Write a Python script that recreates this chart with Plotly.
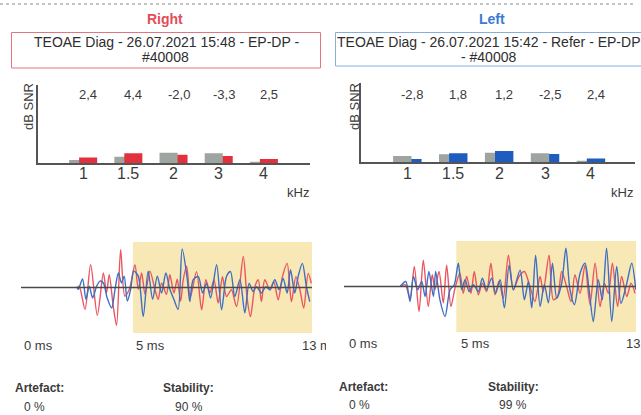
import plotly.graph_objects as go

W, H = 641, 415

# ---------------- data ----------------
freq_labels = ['1', '1.5', '2', '3', '4']
snr_right = ['2,4', '4,4', '-2,0', '-3,3', '2,5']
snr_left = ['-2,8', '1,8', '1,2', '-2,5', '2,4']
noise_right = [1.1, 2.2, 3.5, 3.3, 0.55]
signal_right = [1.9, 3.3, 2.8, 2.4, 1.45]
noise_left = [2.1, 2.7, 3.2, 3.0, 0.55]
signal_left = [1.1, 3.0, 3.8, 2.8, 1.3]

time_ticks = [0, 5, 13]
time_labels_right = ['0 ms', '5 ms', '13 ms']
time_labels_left = ['0 ms', '5 ms', '13 ms']

right_red_t = [2.5, 2.6, 2.86, 3.11, 3.41, 3.68, 3.82, 3.94, 4.12, 4.27, 4.45, 4.64, 4.84, 5.09, 5.24, 5.39, 5.54, 5.76, 5.98, 6.13, 6.28, 6.5, 6.65, 6.83, 6.98, 7.13, 7.25, 7.4, 7.56, 7.84, 8.07, 8.26, 8.44, 8.62, 8.81, 9.0, 9.18, 9.4, 9.63, 9.93, 10.1, 10.25, 10.45, 10.6, 10.74, 10.89, 11.12, 11.29, 11.49, 11.68, 11.89, 12.08, 12.28, 12.46, 12.63, 12.83, 12.97]
right_red_a = [0, 0.03, -0.48, 0.5, -0.61, 0.32, -0.12, 0.28, -0.41, -0.83, 0.83, -0.19, -0.04, 0.5, -0.04, 0.32, -0.15, 0.36, -0.04, -0.26, 0.1, -0.15, 0.28, -0.12, 0.18, -0.3, 0.18, 0.47, -0.22, 0.35, -0.49, 0.17, -0.12, 0.17, -0.34, 0.24, -0.2, -0.05, -0.42, 0.68, -0.23, -0.64, 0.02, 0.17, -0.31, 0.17, -0.05, 0.13, -0.27, 0.24, 0.53, -0.31, 0.24, -0.05, -0.45, 0.31, 0.09]
right_blue_t = [2.5, 2.56, 2.75, 2.9, 3.05, 3.2, 3.38, 3.53, 3.68, 3.85, 4.05, 4.2, 4.35, 4.49, 4.61, 4.75, 4.9, 5.04, 5.24, 5.46, 5.68, 5.88, 6.09, 6.28, 6.47, 6.65, 6.83, 7.02, 7.2, 7.43, 7.54, 7.69, 7.92, 8.11, 8.29, 8.47, 8.74, 8.96, 9.18, 9.36, 9.55, 9.78, 10.0, 10.19, 10.37, 10.52, 10.74, 10.94, 11.12, 11.34, 11.53, 11.71, 11.89, 12.04, 12.23, 12.38, 12.57, 12.75, 12.9]
right_blue_a = [0, -0.04, 0.19, -0.26, 0.03, -0.23, 0.03, 0.14, 0.1, -0.23, -0.45, -0.04, 0.32, 0.1, 0.25, -0.3, -0.04, 0.36, 0.25, -0.64, 0.36, -0.26, 0.25, -0.12, 0.32, -0.04, -0.26, -0.48, 0.85, 0.18, -0.31, 0.17, 0.24, -0.12, 0.09, -0.23, 0.5, -0.49, 0.24, 0.35, -0.2, 0.17, -0.56, 0.09, -0.09, 0.02, -0.12, 0.02, -0.05, 0.17, -0.05, 0.2, -0.12, 0.39, -0.12, 0.24, 0.53, 0.02, -0.31]
left_red_t = [2.5, 2.72, 2.94, 3.13, 3.34, 3.53, 3.75, 3.93, 4.05, 4.23, 4.42, 4.57, 4.76, 4.94, 5.16, 5.31, 5.46, 5.65, 5.8, 5.98, 6.16, 6.35, 6.54, 6.72, 6.9, 7.09, 7.32, 7.54, 7.79, 8.03, 8.28, 8.5, 8.73, 8.87, 9.13, 9.32, 9.51, 9.69, 9.91, 10.11, 10.28, 10.51, 10.73, 10.95, 11.18, 11.4, 11.59, 11.77, 11.95, 12.18, 12.36, 12.59, 12.78, 12.96]
left_red_a = [0, 0.04, -0.26, 0.44, -0.55, 0.58, -0.44, 0.26, -0.07, 0.33, -0.36, 0.47, -0.44, -0.04, 0.29, -0.15, 0.22, -0.15, 0.33, -0.18, 0.07, -0.11, 0.51, -0.18, 0.11, -0.26, 0.69, -0.07, 0.22, 0.33, 0, -0.33, 0.22, -0.11, 0.69, -0.29, -0.22, 0.33, 0, -0.33, 0.26, -0.15, 0.47, -0.4, 0.51, -0.44, 0.07, -0.15, 0.51, -0.44, 0.22, -0.22, 0.07, -0.15]
left_blue_t = [2.5, 2.75, 2.94, 3.09, 3.28, 3.46, 3.61, 3.78, 3.98, 4.08, 4.27, 4.5, 4.72, 4.91, 5.09, 5.24, 5.39, 5.57, 5.76, 5.98, 6.16, 6.35, 6.57, 6.75, 6.95, 7.14, 7.35, 7.54, 7.84, 8.03, 8.21, 8.36, 8.53, 8.73, 8.92, 9.1, 9.28, 9.47, 9.69, 9.88, 10.06, 10.26, 10.51, 10.73, 10.91, 11.1, 11.32, 11.5, 11.69, 11.92, 12.14, 12.33, 12.59, 12.81, 12.99]
left_blue_a = [0, 0.11, -0.33, 0.22, -0.07, 0.11, -0.22, 0.33, -0.22, 0.33, -0.29, -0.66, -0.07, 0.04, 0.51, -0.07, 0.15, -0.11, 0.04, -0.11, 0.18, -0.07, 0.18, -0.15, 0.15, -0.47, 0.47, -0.07, 0.36, -0.29, 0.11, -0.47, 0.69, -0.44, 0.04, -0.36, 0.51, -0.26, 0.07, 0.84, -0.07, -0.4, 0.29, 0.51, -0.07, -0.77, 0.15, -0.29, 0.84, -0.77, 0.44, -0.37, 0.07, 0.51, -0.07]

# ---------------- styling ----------------
FONT = 'Liberation Sans, Arial, sans-serif'
TXT = '#3a3a3a'
GRAY = '#9ea49f'
RED_BAR = '#e2313c'
BLUE_BAR = '#1f5cc0'
RED_W = '#ea5560'
BLUE_W = '#3d6fc2'
YELLOW = '#f7e8b6'


def px(x):
    return x / W


def py(y):
    return 1 - y / H


fig = go.Figure()


def add_bars(noise, signal, color, xa, ya):
    xs = list(range(len(freq_labels)))
    back = [n if n <= s else None for n, s in zip(noise, signal)]
    front = [n if n > s else None for n, s in zip(noise, signal)]
    common = dict(width=0.4, xaxis=xa, yaxis=ya, showlegend=False,
                  hoverinfo='skip', marker_line_width=0)
    fig.add_bar(x=xs, y=back, offset=-0.31, marker_color=GRAY, **common)
    fig.add_bar(x=xs, y=signal, offset=-0.09, marker_color=color, **common)
    fig.add_bar(x=xs, y=front, offset=-0.31, marker_color=GRAY, **common)


add_bars(noise_right, signal_right, RED_BAR, 'x', 'y')
add_bars(noise_left, signal_left, BLUE_BAR, 'x2', 'y2')


def add_wave(rt, ra, bt, ba, xa, ya):
    common = dict(mode='lines', xaxis=xa, yaxis=ya, showlegend=False,
                  hoverinfo='skip', line_shape='spline')
    fig.add_scatter(x=rt, y=ra, line=dict(color=RED_W, width=1.4, smoothing=0.8), **common)
    fig.add_scatter(x=bt, y=ba, line=dict(color=BLUE_W, width=1.4, smoothing=0.8), **common)
    fig.add_scatter(x=[time_ticks[0], time_ticks[-1]], y=[0, 0], mode='lines',
                    xaxis=xa, yaxis=ya, showlegend=False, hoverinfo='skip',
                    line=dict(color='#4a4a4a', width=1.5))


add_wave(right_red_t, right_red_a, right_blue_t, right_blue_a, 'x3', 'y3')
add_wave(left_red_t, left_red_a, left_blue_t, left_blue_a, 'x4', 'y4')

bar_x = dict(showline=True, linecolor='#555', linewidth=1.5, showgrid=False, zeroline=False,
             showticklabels=False, ticks='', fixedrange=True)
bar_y = dict(showline=True, linecolor='#555', linewidth=1.5, showgrid=False, zeroline=False,
             showticklabels=False, ticks='', fixedrange=True)
wave_ax = dict(visible=False, fixedrange=True)

fig.update_layout(
    width=W, height=H,
    margin=dict(l=0, r=0, t=0, b=0, pad=0),
    paper_bgcolor='white', plot_bgcolor='rgba(0,0,0,0)',
    barmode='overlay', showlegend=False,
    font=dict(family=FONT, color=TXT),
    xaxis=dict(domain=[px(38), px(310)], range=[-1.0, 5.02], anchor='y', **bar_x),
    yaxis=dict(domain=[py(163.3), py(85)], range=[0, 26], anchor='x', **bar_y),
    xaxis2=dict(domain=[px(361), px(635)], range=[-1.01, 4.96], anchor='y2', **bar_x),
    yaxis2=dict(domain=[py(162.3), py(83)], range=[0, 26.4], anchor='x2', **bar_y),
    xaxis3=dict(domain=[px(21), px(312)], range=[0, 13], anchor='y3', **wave_ax),
    yaxis3=dict(domain=[py(333), py(242)], range=[-1, 1], anchor='x3', **wave_ax),
    xaxis4=dict(domain=[px(344), px(636)], range=[0, 13], anchor='y4', **wave_ax),
    yaxis4=dict(domain=[py(332), py(241)], range=[-1, 1], anchor='x4', **wave_ax),
)

shapes = [
    dict(type='line', xref='paper', yref='paper', x0=0, x1=px(633), y0=py(4), y1=py(4),
         line=dict(color='#8a8a8a', width=1, dash='dot')),
    dict(type='rect', xref='paper', yref='paper', x0=px(11.5), x1=px(320.5), y0=py(68), y1=py(32.5),
         line=dict(color='#e07780', width=1)),
    dict(type='rect', xref='paper', yref='paper', x0=px(335.5), x1=px(646), y0=py(66), y1=py(32.5),
         line=dict(color='#86aee0', width=1)),
    dict(type='rect', xref='x3', yref='y3', x0=time_ticks[1], x1=time_ticks[2], y0=-1, y1=1,
         fillcolor=YELLOW, line=dict(width=0), layer='below'),
    dict(type='rect', xref='x4', yref='y4', x0=time_ticks[1], x1=time_ticks[2], y0=-1, y1=1,
         fillcolor=YELLOW, line=dict(width=0), layer='below'),
]
fig.update_layout(shapes=shapes)

ann = []


def text(x, y, s, size=13, color=TXT, bold=False, xanchor='center', **kw):
    if bold:
        s = '<b>' + s + '</b>'
    ann.append(dict(x=px(x), y=py(y), xref='paper', yref='paper', text=s, showarrow=False,
                    xanchor=xanchor, yanchor='middle', font=dict(size=size, color=color, family=FONT), **kw))


# headers
text(165, 19, 'Right', size=14, color='#e34c57', bold=True)
text(492, 19, 'Left', size=14, color='#3a7ad2', bold=True)
text(166, 42.5, 'TEOAE Diag - 26.07.2021 15:48 - EP-DP -', size=14, color='#2e2e2e')
text(165, 57.5, '#40008', size=14, color='#2e2e2e')
text(488.5, 42.5, 'TEOAE Diag - 26.07.2021 15:42 - Refer - EP-DP', size=14, color='#2e2e2e')
text(488.5, 57.5, '- #40008', size=14, color='#2e2e2e')

# bar chart labels
text(29, 107, 'dB SNR', size=13, textangle=-90)
text(354, 106, 'dB SNR', size=13, textangle=-90)
text(298, 193, 'kHz', size=13)
text(622, 193, 'kHz', size=13)
for xa, labels in (('x', snr_right), ('x2', snr_left)):
    for i, s in enumerate(labels):
        ann.append(dict(x=i + 0.11, y=py(94), xref=xa, yref='paper', text=s, showarrow=False,
                        xanchor='center', yanchor='middle', font=dict(size=13, color=TXT, family=FONT)))
    for i, s in enumerate(freq_labels):
        ann.append(dict(x=i, y=py(173.5), xref=xa, yref='paper', text=s, showarrow=False,
                        xanchor='center', yanchor='middle', font=dict(size=16, color=TXT, family=FONT)))

# time labels
for i, (t, s) in enumerate(zip(time_ticks, time_labels_right)):
    d = dict(x=t, y=py(345), xref='x3', yref='paper', text=s, showarrow=False,
             xanchor='left', yanchor='middle', xshift=1, align='left',
             font=dict(size=13, color=TXT, family=FONT))
    if i == len(time_ticks) - 1:
        d['x'] = t - 0.57
        d['width'] = 24
    ann.append(d)
for t, s in zip(time_ticks, time_labels_left):
    d = dict(x=t, y=py(343), xref='x4', yref='paper', text=s, showarrow=False,
             xanchor='left', yanchor='middle', xshift=3, align='left',
             font=dict(size=13, color=TXT, family=FONT))
    if t == time_ticks[-1]:
        d['x'] = t - 0.65
    ann.append(d)

# artefact / stability
text(13, 388, 'Artefact:', size=12, bold=True, xanchor='left')
text(22, 407, '0 %', size=12, xanchor='left')
text(161, 388, 'Stability:', size=12, bold=True, xanchor='left')
text(173, 407, '90 %', size=12, xanchor='left')
text(337, 387, 'Artefact:', size=12, bold=True, xanchor='left')
text(347, 405, '0 %', size=12, xanchor='left')
text(486, 387, 'Stability:', size=12, bold=True, xanchor='left')
text(497, 405, '99 %', size=12, xanchor='left')

fig.update_layout(annotations=ann)
fig.write_html('out.html', config={'displayModeBar': False},
               post_script="document.body.style.margin='0';document.body.style.padding='0';"
                           "document.body.style.overflow='hidden';")
